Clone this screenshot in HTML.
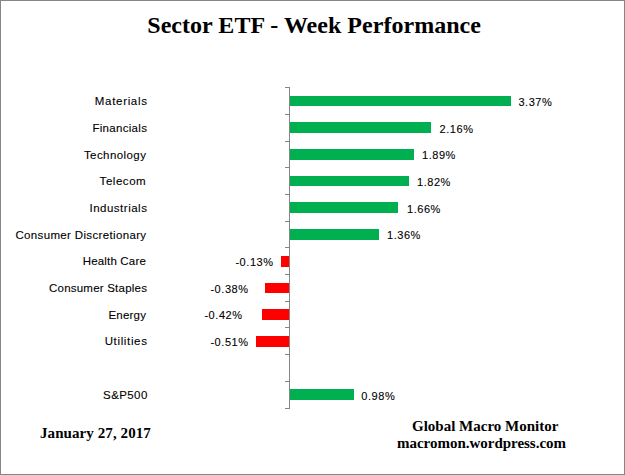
<!DOCTYPE html>
<html><head><meta charset="utf-8"><title>Sector ETF - Week Performance</title>
<style>
html,body{margin:0;padding:0;background:#fff;}
#c{position:relative;width:625px;height:475px;background:#fff;overflow:hidden;}
#c div{position:absolute;}
#bd{left:0;top:0;width:623px;height:473px;border:1px solid #868686;}
.t{font-family:"Liberation Serif",serif;font-weight:bold;color:#000;white-space:nowrap;}
#title{left:147.3px;top:11px;letter-spacing:0.03px;font-size:24px;line-height:28px;}
.cl{right:478.70px;font-family:"Liberation Sans",sans-serif;font-size:11.5px;line-height:12px;color:#000;white-space:nowrap;text-align:right;-webkit-text-stroke:0.1px #000;}
.vl{font-family:"Liberation Sans",sans-serif;font-size:11px;letter-spacing:0.55px;line-height:11px;color:#000;white-space:nowrap;-webkit-text-stroke:0.1px #000;}
.bar.g{background:#00b050;}
.bar.r{background:#ff0000;}
#axis{left:289px;top:87px;width:1px;height:322px;background:#868686;}
.tick{left:285px;width:5px;height:1px;background:#868686;}
#date{left:40px;top:424px;letter-spacing:0.08px;font-size:15px;line-height:18px;}
#gmm{left:412px;top:417px;font-size:15px;line-height:18px;}
#url{left:397px;top:434px;letter-spacing:-0.02px;font-size:15px;line-height:18px;}
</style></head><body>
<div id="c">
<div id="bd"></div>
<div id="title" class="t">Sector ETF - Week Performance</div>
<div class="cl" style="top:94.80px;letter-spacing:0.675px;right:477.42px">Materials</div>
<div class="bar g" style="left:290px;top:96px;width:221px;height:10px"></div>
<div class="vl" style="left:518.40px;top:96.70px">3.37%</div>
<div class="cl" style="top:121.80px;letter-spacing:0.300px;right:477.80px">Financials</div>
<div class="bar g" style="left:290px;top:122px;width:141px;height:11px"></div>
<div class="vl" style="left:439.60px;top:123.70px">2.16%</div>
<div class="cl" style="top:148.80px;letter-spacing:0.422px;right:478.68px">Technology</div>
<div class="bar g" style="left:290px;top:149px;width:124px;height:11px"></div>
<div class="vl" style="left:422.00px;top:149.70px">1.89%</div>
<div class="cl" style="top:174.80px;letter-spacing:0.550px;right:478.75px">Telecom</div>
<div class="bar g" style="left:290px;top:176px;width:119px;height:10px"></div>
<div class="vl" style="left:417.00px;top:176.70px">1.82%</div>
<div class="cl" style="top:201.80px;letter-spacing:0.500px;right:477.60px">Industrials</div>
<div class="bar g" style="left:290px;top:202px;width:108px;height:11px"></div>
<div class="vl" style="left:407.00px;top:203.70px">1.66%</div>
<div class="cl" style="top:228.80px;letter-spacing:0.348px;right:478.55px">Consumer Discretionary</div>
<div class="bar g" style="left:290px;top:229px;width:89px;height:11px"></div>
<div class="vl" style="left:387.00px;top:229.70px">1.36%</div>
<div class="cl" style="top:254.80px;letter-spacing:0.180px;right:479.02px">Health Care</div>
<div class="bar r" style="left:281px;top:256px;width:8px;height:11px"></div>
<div class="vl" style="left:235.40px;top:256.70px">-0.13%</div>
<div class="cl" style="top:281.80px;letter-spacing:0.220px;right:477.88px">Consumer Staples</div>
<div class="bar r" style="left:265px;top:283px;width:24px;height:10px"></div>
<div class="vl" style="left:210.40px;top:283.70px">-0.38%</div>
<div class="cl" style="top:308.80px;letter-spacing:0.200px;right:478.90px">Energy</div>
<div class="bar r" style="left:262px;top:309px;width:27px;height:11px"></div>
<div class="vl" style="left:204.40px;top:309.70px">-0.42%</div>
<div class="cl" style="top:334.80px;letter-spacing:0.650px;right:477.45px">Utilities</div>
<div class="bar r" style="left:256px;top:336px;width:33px;height:11px"></div>
<div class="vl" style="left:210.40px;top:336.70px">-0.51%</div>
<div class="cl" style="top:388.80px;letter-spacing:0.400px;right:477.30px">S&amp;P500</div>
<div class="bar g" style="left:290px;top:389px;width:64px;height:11px"></div>
<div class="vl" style="left:361.30px;top:390.70px">0.98%</div>
<div id="axis"></div>
<div class="tick" style="top:87px"></div>
<div class="tick" style="top:114px"></div>
<div class="tick" style="top:141px"></div>
<div class="tick" style="top:167px"></div>
<div class="tick" style="top:194px"></div>
<div class="tick" style="top:221px"></div>
<div class="tick" style="top:247px"></div>
<div class="tick" style="top:274px"></div>
<div class="tick" style="top:301px"></div>
<div class="tick" style="top:327px"></div>
<div class="tick" style="top:354px"></div>
<div class="tick" style="top:381px"></div>
<div class="tick" style="top:408px"></div>
<div id="date" class="t">January 27, 2017</div>
<div id="gmm" class="t">Global Macro Monitor</div>
<div id="url" class="t">macromon.wordpress.com</div>
</div>
</body></html>
